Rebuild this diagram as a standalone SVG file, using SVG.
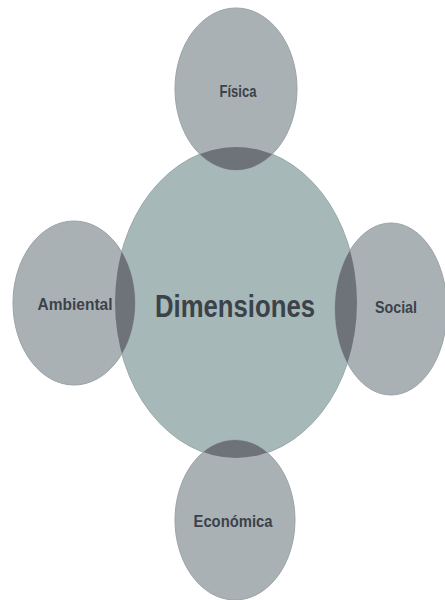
<svg xmlns="http://www.w3.org/2000/svg" width="445" height="600" viewBox="0 0 445 600">
<style>
.outer{fill:#aab1b5;stroke:#9ba3a7;stroke-width:1}
.center{fill:#a6b8b8;stroke:#9aaaab;stroke-width:1}
.lens{fill:#6d7378}
.lbl{font-family:"Liberation Sans",Arial,sans-serif;font-weight:bold;fill:#3b4249;text-anchor:middle}
</style>
<defs>
<clipPath id="cc"><ellipse cx="236" cy="302.5" rx="121" ry="155.5"/></clipPath>
</defs>
<rect width="445" height="600" fill="#ffffff"/>
<g id="dimensiones">
<ellipse class="center" cx="236" cy="302.5" rx="121" ry="155.5"/>
<text class="lbl" x="235" y="317" font-size="32" textLength="160" lengthAdjust="spacingAndGlyphs">Dimensiones</text>
</g>
<g id="fisica">
<ellipse class="outer" cx="236" cy="89" rx="61" ry="81"/>
<ellipse class="lens" cx="236" cy="89" rx="61" ry="81" clip-path="url(#cc)"/>
<text class="lbl" x="238" y="97" font-size="17" textLength="37" lengthAdjust="spacingAndGlyphs">Física</text>
</g>
<g id="ambiental">
<ellipse class="outer" cx="74" cy="303" rx="61" ry="82"/>
<ellipse class="lens" cx="74" cy="303" rx="61" ry="82" clip-path="url(#cc)"/>
<text class="lbl" x="75" y="310" font-size="17" textLength="75" lengthAdjust="spacingAndGlyphs">Ambiental</text>
</g>
<g id="social">
<ellipse class="outer" cx="391" cy="309" rx="56" ry="86"/>
<ellipse class="lens" cx="391" cy="309" rx="56" ry="86" clip-path="url(#cc)"/>
<text class="lbl" x="396" y="313" font-size="17" textLength="42" lengthAdjust="spacingAndGlyphs">Social</text>
</g>
<g id="economica">
<ellipse class="outer" cx="235" cy="520" rx="60" ry="80"/>
<ellipse class="lens" cx="235" cy="520" rx="60" ry="80" clip-path="url(#cc)"/>
<text class="lbl" x="233" y="527" font-size="17" textLength="79" lengthAdjust="spacingAndGlyphs">Económica</text>
</g>
<g id="connectors"/>
</svg>
